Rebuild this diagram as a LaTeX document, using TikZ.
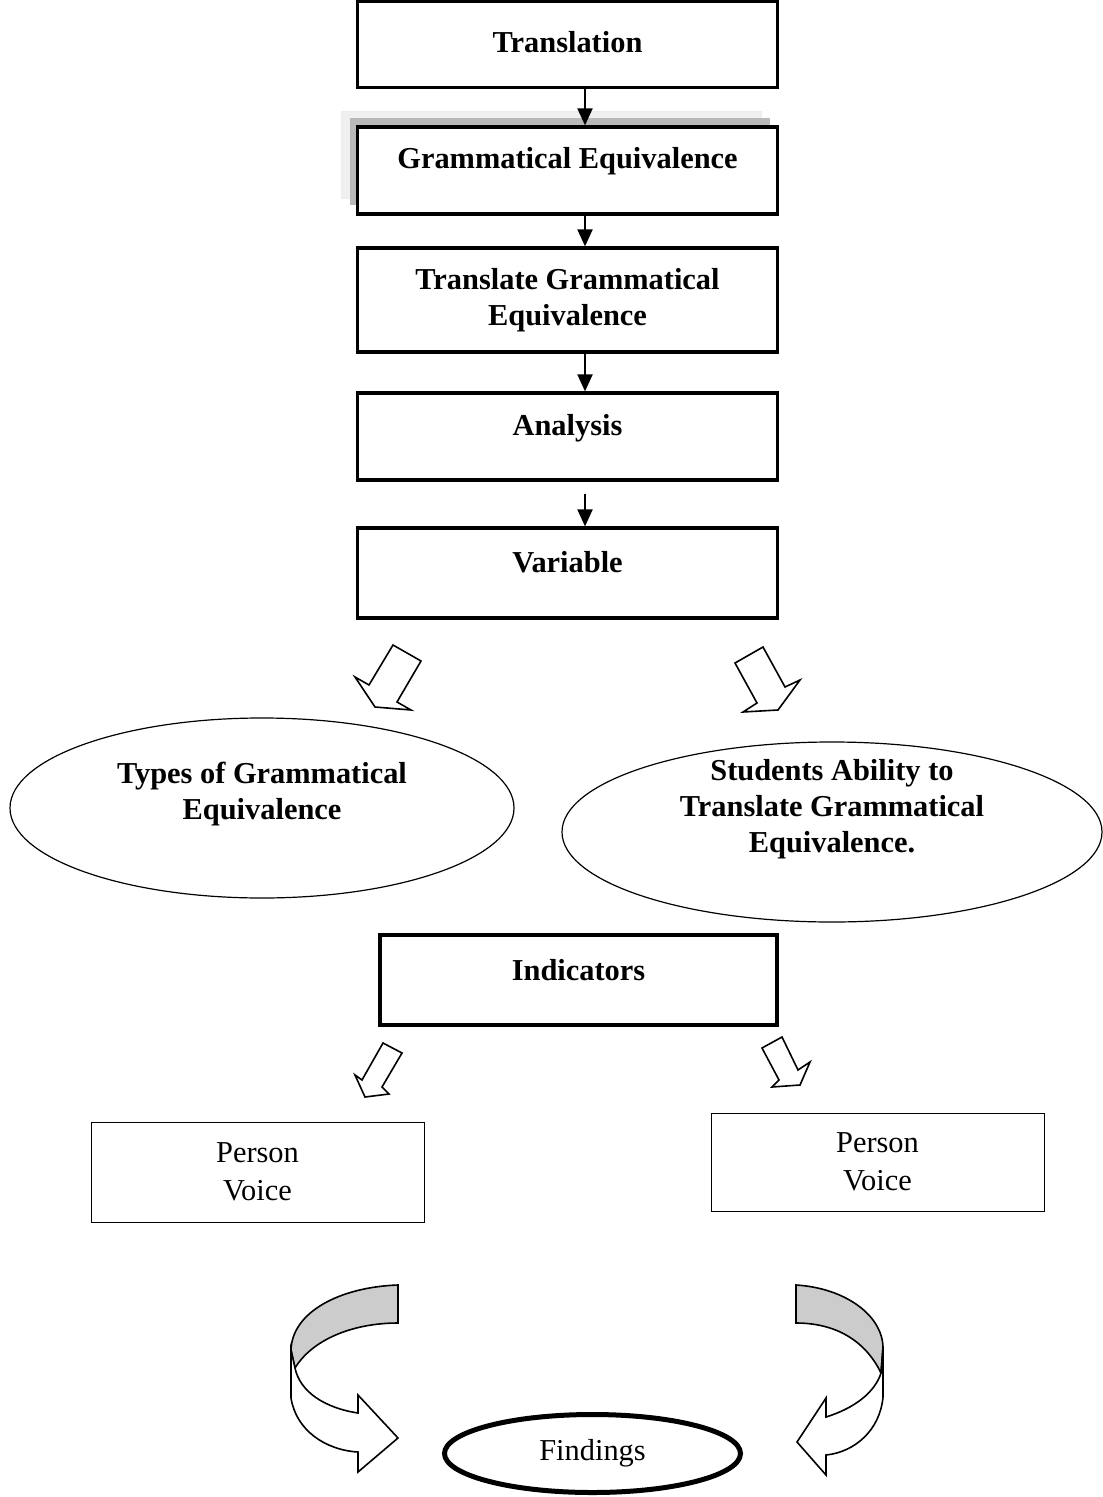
\documentclass[tikz,border=0pt]{standalone}
\usepackage{fontspec}
\setmainfont{Liberation Serif}
\usetikzlibrary{shapes.geometric, shadows, arrows.meta, positioning}

\begin{document}
\begin{tikzpicture}[x=0.5pt, y=-0.5pt,
  every node/.style={font=\fontsize{15.2pt}{19pt}\selectfont},
  box/.style={draw, line width=1.6pt, minimum width=210pt, inner sep=0pt, align=center, font=\fontsize{15.2pt}{18pt}\selectfont\bfseries},
  plainbox/.style={draw, line width=0.5pt, minimum width=166.5pt, minimum height=49.5pt, inner sep=0pt, align=center},
  oval/.style={draw, ellipse, line width=0.6pt, inner sep=0pt},
  ovaltext/.style={align=center, inner sep=0pt, font=\fontsize{15.2pt}{18pt}\selectfont\bfseries},
  hollow/.style={draw, line width=0.8pt, fill=white, line join=miter},
  ribbon/.style={draw, line width=0.8pt, line join=miter},
  flow/.style={-{Triangle[length=8.5pt,width=7.5pt]}, line width=1pt}
]
            \useasboundingbox (0,0) rectangle (1102,1497);

            % Boxes in a column
            \node[box, minimum height=43pt, text depth=2.8pt] (translation) at (567.5,44.5) {Translation};
            \node[box, minimum height=43.5pt, text depth=12.8pt, fill=white,
                  general shadow={shadow xshift=-8pt, shadow yshift=8pt, fill=gray!12, draw=gray!15, line width=0.4pt},
                  general shadow={shadow xshift=-4pt, shadow yshift=4.5pt, fill=gray!55, draw=none}] (grammEq) at (567.5,170.5) {Grammatical Equivalence};
            \node[box, minimum height=52pt] (translateEq) at (567.5,300) {Translate Grammatical\\Equivalence};
            \node[box, minimum height=43.5pt, text depth=11.8pt] (analysis) at (567.5,436.5) {Analysis};
            \node[box, minimum height=45pt, text depth=11.3pt] (variable) at (567.5,573) {Variable};

            % Arrows between the boxes
            \draw[flow] ([xshift=8.75pt]translation.south) -- ([xshift=8.75pt]grammEq.north);
            \draw[flow] ([xshift=8.75pt]grammEq.south) -- ([xshift=8.75pt]translateEq.north);
            \draw[flow] ([xshift=8.75pt]translateEq.south) -- ([xshift=8.75pt]analysis.north);
            \draw[flow] ([xshift=8.75pt,yshift=-6pt]analysis.south) -- ([xshift=8.75pt]variable.north);

            % Hollow arrows under Variable
            \draw[hollow] (393,645) -- (421,661) -- (397,702) -- (411,710) -- (375,707) -- (355,677) -- (369,685) -- cycle;
            \draw[hollow] (735,663) -- (763,647) -- (785,687) -- (800,680) -- (778,710) -- (743,712) -- (757,703) -- cycle;

            % The two variables
            \node[oval, minimum width=252pt, minimum height=90pt] (typesOval) at (262,808) {};
            \node[ovaltext] (typesText) at (262,794) {Types of Grammatical\\Equivalence};
            \node[oval, minimum width=270pt, minimum height=90pt] (abilityOval) at (832,832) {};
            \node[ovaltext] (abilityText) at (832,809) {Students Ability to\\Translate Grammatical\\Equivalence.};

            % Indicators
            \node[box, line width=2pt, minimum width=198.5pt, minimum height=45pt, text depth=10.3pt] (indicators) at (578.5,980) {Indicators};

            % Hollow arrows under Indicators
            \draw[hollow] (383,1043) -- (402,1053) -- (382,1087) -- (389,1094) -- (365,1097) -- (355,1075) -- (362,1080) -- cycle;
            \draw[hollow] (762,1048) -- (782,1037) -- (798,1070) -- (810,1062) -- (800,1085) -- (772,1087) -- (779,1080) -- cycle;

            % Person / Voice boxes
            \node[plainbox, minimum height=50pt] (personLeft) at (257.5,1172) {Person\\Voice};
            \node[plainbox, minimum height=49pt] (personRight) at (877.5,1162) {Person\\Voice};

            % Curved ribbon arrows
            \draw[ribbon, fill=gray!40] (398,1285) .. controls (340,1287) and (292,1312) .. (291,1350) -- (295,1368) .. controls (312,1340) and (352,1323) .. (398,1323) -- cycle;
            \draw[ribbon, fill=white] (291,1350) -- (291,1398) .. controls (296,1430) and (325,1450) .. (358,1452) -- (358,1472) -- (398,1438) -- (358,1395) -- (358,1413) .. controls (325,1408) and (300,1392) .. (295,1368) -- cycle;
            \draw[ribbon, fill=gray!40] (796,1285) .. controls (845,1288) and (882,1315) .. (883,1347) -- (881,1373) .. controls (865,1340) and (835,1323) .. (796,1323) -- cycle;
            \draw[ribbon, fill=white] (883,1347) -- (883,1397) .. controls (880,1430) and (855,1452) .. (826,1455) -- (826,1475) -- (797,1442) -- (826,1398) -- (826,1417) .. controls (855,1408) and (875,1392) .. (881,1373) -- cycle;

            % Findings
            \node[draw, ellipse, line width=2.5pt, minimum width=148pt, minimum height=39pt, inner sep=0pt] (findings) at (592.5,1453.5) {Findings};

\end{tikzpicture}
\end{document}
